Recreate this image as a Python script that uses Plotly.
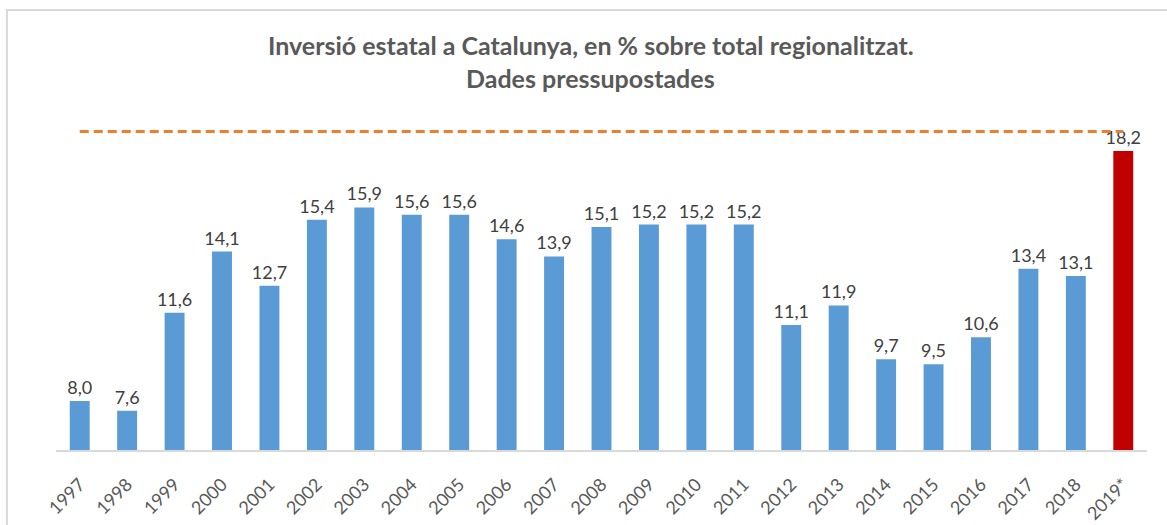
import plotly.graph_objects as go

years = ['1997', '1998', '1999', '2000', '2001', '2002', '2003', '2004', '2005', '2006',
         '2007', '2008', '2009', '2010', '2011', '2012', '2013', '2014', '2015', '2016',
         '2017', '2018', '2019*']
share = [8.0, 7.6, 11.6, 14.1, 12.7, 15.4, 15.9, 15.6, 15.6, 14.6,
         13.9, 15.1, 15.2, 15.2, 15.2, 11.1, 11.9, 9.7, 9.5, 10.6,
         13.4, 13.1, 18.2]
reference_level = [19.0] * len(years)

bar_colors = ['#5B9BD5'] * (len(years) - 1) + ['#C00000']
FONT = 'Lato'

fig = go.Figure()

# Bars with value labels
fig.add_trace(go.Bar(
    x=years,
    y=share,
    marker=dict(color=bar_colors, line=dict(width=0)),
    texttemplate='%{y:.1f}',
    textposition='outside',
    constraintext='none',
    textfont=dict(family=FONT, size=18, color='#404040'),
    cliponaxis=False,
    showlegend=False
))

# Dashed reference line
fig.add_trace(go.Scatter(
    x=years,
    y=reference_level,
    mode='lines',
    line=dict(color='#ED7D31', width=3, dash='9px,5px'),
    hoverinfo='skip',
    showlegend=False
))

# Title lines
for text, ypos in [('Inversió estatal a Catalunya, en % sobre total regionalitzat.', 1.181),
                   ('Dades pressupostades', 1.085)]:
    fig.add_annotation(
        text='<b>' + text + '</b>', xref='paper', yref='paper', x=0.49, y=ypos,
        showarrow=False, xanchor='center', yanchor='middle',
        font=dict(family=FONT, size=25, color='#595959')
    )

# Chart border
fig.add_shape(type='rect', xref='paper', yref='paper', x0=-0.045, y0=-0.4, x1=1.1, y1=1.283,
              line=dict(color='#D9D9D9', width=2), fillcolor='rgba(0,0,0,0)', layer='below')

fig.update_layout(
    width=1167, height=525,
    margin={"l": 56, "r": 20, "t": 107, "b": 75, "autoexpand": False},
    paper_bgcolor='white',
    plot_bgcolor='white',
    separators=',.',
    bargap=0.58,
    font=dict(family=FONT, color='#595959'),
    xaxis=dict(tickangle=-45, tickfont=dict(family=FONT, size=18, color='#595959'),
               automargin=False,
               showline=True, linecolor='#D9D9D9', linewidth=2,
               ticks='outside', ticklen=15, tickcolor='rgba(0,0,0,0)', showgrid=False),
    yaxis=dict(range=[6, 20], visible=False, showgrid=False, zeroline=False)
)

fig.write_html("out.html", config={'displayModeBar': False},
               post_script="document.body.style.margin='0px';document.body.style.overflow='hidden';")
